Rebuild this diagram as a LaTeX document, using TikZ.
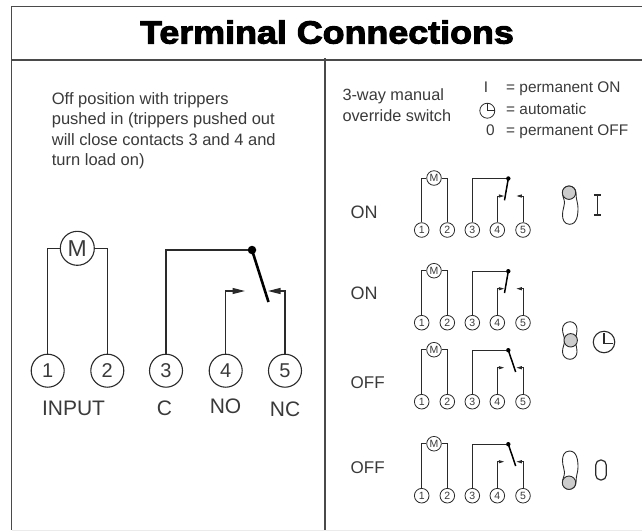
\documentclass[tikz,border=0pt]{standalone}
\usepackage{fontspec}
\setmainfont{Liberation Sans}
\newfontfamily\titlefont[FakeBold=3.2,FakeStretch=1.12]{Liberation Sans Bold}
\usetikzlibrary{arrows.meta}
\definecolor{framegray}{HTML}{4A4A4A}
\definecolor{inkgray}{HTML}{2A2A2A}
\definecolor{textgray}{HTML}{3A3A3A}
\definecolor{knobgray}{HTML}{CCCCCC}
\tikzset{
  x=1pt,y=-1pt,
  frameline/.style={framegray,line width=1.5pt},
  wire/.style={inkgray,line width=1.2pt},
  smallwire/.style={inkgray,line width=0.95pt},
  bigterm/.style={circle,draw=inkgray,line width=1.1pt,minimum size=33pt,inner sep=0pt,text=textgray,font=\fontsize{20}{20}\selectfont},
  smallterm/.style={circle,draw=inkgray,line width=0.8pt,minimum size=14.6pt,inner sep=0pt,text=textgray,font=\fontsize{10.5}{10.5}\selectfont},
  bigpin/.style={wire,-{Triangle[length=12.5pt,width=6pt]}},
  smallpin/.style={smallwire,-{Triangle[length=5.5pt,width=3pt]}},
  biglabel/.style={text=textgray,inner sep=0pt,font=\fontsize{21}{21}\selectfont},
  rowlabel/.style={text=textgray,inner sep=0pt,anchor=base west,font=\fontsize{18}{18}\selectfont},
  bodytext/.style={text=textgray,inner sep=0pt,font=\fontsize{16.5}{20.3}\selectfont},
  overridetext/.style={text=textgray,inner sep=0pt,font=\fontsize{16.3}{20.3}\selectfont},
  legendtext/.style={text=textgray,inner sep=0pt,anchor=base west,font=\fontsize{15.4}{15.4}\selectfont},
  knob/.style={fill=knobgray,draw=inkgray,line width=0.9pt},
  blob/.style={draw=inkgray,line width=0.9pt},
  symbolline/.style={inkgray,line width=1.2pt},
}
\newcommand{\relayrow}[3]{% prefix, terminal y, lever end x
  \node[smallterm] (#1a) at (421.7,#2) {1};
  \node[smallterm] (#1b) at (447.3,#2) {2};
  \node[smallterm] (#1c) at (472.3,#2) {3};
  \node[smallterm] (#1d) at (497.3,#2) {4};
  \node[smallterm] (#1e) at (523,#2) {5};
  \node[smallterm] (#1m) at (434,{#2-52}) {M};
  \draw[smallwire] (#1a) |- (#1m);
  \draw[smallwire] (#1b) |- (#1m);
  \node[circle,fill=black,inner sep=0pt,minimum size=4.4pt] (#1p) at (508.3,{#2-51.5}) {};
  \draw[smallwire] (#1c) |- (#1p);
  \coordinate (#1lev) at (#3,{#2-29.7});
  \draw[black,line width=1.5pt] (#1p.center) -- (#1lev);
  \coordinate (#1no) at (504.3,{#2-34});
  \coordinate (#1nc) at (516.3,{#2-34});
  \draw[smallpin] (#1d) |- (#1no);
  \draw[smallpin] (#1e) |- (#1nc);
}
\newcommand{\lobepath}{(569,186) .. controls (573,186) and (576,189) .. (576,193)
  .. controls (576,200) and (578,203) .. (578,208)
  .. controls (578,215) and (577,224.3) .. (569.5,224.3)
  .. controls (564,224.3) and (562.5,219) .. (562.5,215)
  .. controls (562.5,209) and (564.5,207) .. (564.5,203)
  .. controls (564.5,199) and (562.5,197) .. (562.5,193)
  .. controls (562.5,189) and (565,186) .. (569,186) -- cycle}
\begin{document}
\begin{tikzpicture}
\useasboundingbox (0,0) rectangle (642,531);
% frame
\draw[frameline] (642,6.7) -- (11.5,6.7) -- (11.5,530);
\draw[frameline] (11.5,60) -- (642,60);
\draw[frameline] (325,58) -- (325,530);
\draw[black!8,line width=1pt] (11.5,530.5) -- (642,530.5);
% title
\node[inner sep=0pt,anchor=base,text=black,font=\titlefont\fontsize{32}{32}\selectfont] (title) at (327,43.5) {Terminal Connections};
% left text
\node[bodytext,anchor=north west,align=left] (note) at (51.7,92.5) {Off position with trippers\\pushed in (trippers pushed out\\will close contacts 3 and 4 and\\turn load on)};
% large diagram
\node[bigterm] (t1) at (47.7,370.7) {1};
\node[bigterm] (t2) at (107.3,370.7) {2};
\node[bigterm] (t3) at (166,370.7) {3};
\node[bigterm] (t4) at (225.7,370.7) {4};
\node[bigterm] (t5) at (285,370.7) {5};
\node[bigterm,minimum size=34pt,font=\fontsize{23}{23}\selectfont] (motor) at (77.3,248.3) {M};
\draw[wire] (t1) |- (motor);
\draw[wire] (t2) |- (motor);
\node[circle,fill=black,inner sep=0pt,minimum size=8.5pt] (pivot) at (252,250) {};
\draw[wire] (t3) |- (pivot);
\coordinate (leverend) at (268.5,302);
\draw[black,line width=2.6pt] (pivot.center) -- (leverend);
\coordinate (notip) at (245,291);
\coordinate (nctip) at (268,291);
\draw[bigpin] (t4) |- (notip);
\draw[bigpin] (t5) |- (nctip);
\node[biglabel,anchor=base] (linput) at (73.5,415.5) {INPUT};
\node[biglabel,anchor=base] (lc) at (164.5,415.5) {C};
\node[biglabel,anchor=base] (lno) at (225.5,413.5) {NO};
\node[biglabel,anchor=base] (lnc) at (285,416.5) {NC};
% legend
\node[overridetext,anchor=north west,align=left] (override) at (342.3,88.7) {3-way manual\\override switch};
\node[legendtext] (lg1) at (506,92.7) {= permanent ON};
\node[legendtext] (lg2) at (506,114) {= automatic};
\node[legendtext] (lg3) at (506,135) {= permanent OFF};
\node[legendtext,anchor=base] (sym1) at (486,92.7) {I};
\node[legendtext,anchor=base] (sym3) at (490.5,135) {0};
\node[circle,draw=inkgray,line width=0.8pt,minimum size=15pt,inner sep=0pt] (clocksmall) at (487.3,110.7) {};
\draw[symbolline,line width=0.8pt] (487.3,103.2) -- (487.3,110.7) -- (494.8,110.7);
% rows
\node[rowlabel] (on1) at (350.5,218) {ON};
\node[rowlabel] (on2) at (350.5,299) {ON};
\node[rowlabel,font=\fontsize{17}{17}\selectfont] (off1) at (350.5,388.5) {OFF};
\node[rowlabel,font=\fontsize{17}{17}\selectfont] (off2) at (350.5,473.5) {OFF};
\relayrow{ra}{230}{504.5}
\relayrow{rb}{322.7}{504.5}
\relayrow{rc}{401.7}{515.7}
\relayrow{rd}{495.7}{515.7}
% switches
\draw[blob] \lobepath;
\node[circle,knob,minimum size=13.4pt,inner sep=0pt] (knoba) at (569,192.7) {};
\begin{scope}[shift={(0,675.3)},yscale=-1]
\draw[blob] \lobepath;
\end{scope}
\node[circle,knob,minimum size=13.4pt,inner sep=0pt] (knobd) at (569,482.7) {};
\draw[blob] (570,321.7) .. controls (574,321.7) and (577,325) .. (577,329)
  .. controls (577,334) and (575.5,336) .. (575.5,340.5)
  .. controls (575.5,345) and (577,347) .. (577,352)
  .. controls (577,356) and (574,359.3) .. (570,359.3)
  .. controls (566,359.3) and (562.5,356) .. (562.5,352)
  .. controls (562.5,347) and (564.5,345) .. (564.5,340.5)
  .. controls (564.5,336) and (562.5,334) .. (562.5,329)
  .. controls (562.5,325) and (566,321.7) .. (570,321.7) -- cycle;
\node[circle,knob,minimum size=13.4pt,inner sep=0pt] (knobc) at (570.7,340.3) {};
% position symbols
\draw[symbolline] (597.3,195) -- (597.3,215);
\draw[symbolline] (593.8,195) -- (600.8,195);
\draw[symbolline] (593.8,215) -- (600.8,215);
\node[circle,draw=inkgray,line width=1.1pt,minimum size=21.5pt,inner sep=0pt] (clockbig) at (604,342) {};
\draw[symbolline] (604,333) -- (604,343.5) -- (613,343.5);
\draw[symbolline,rounded corners=5pt] (595.7,460) rectangle (606.3,480);
\end{tikzpicture}
\end{document}
